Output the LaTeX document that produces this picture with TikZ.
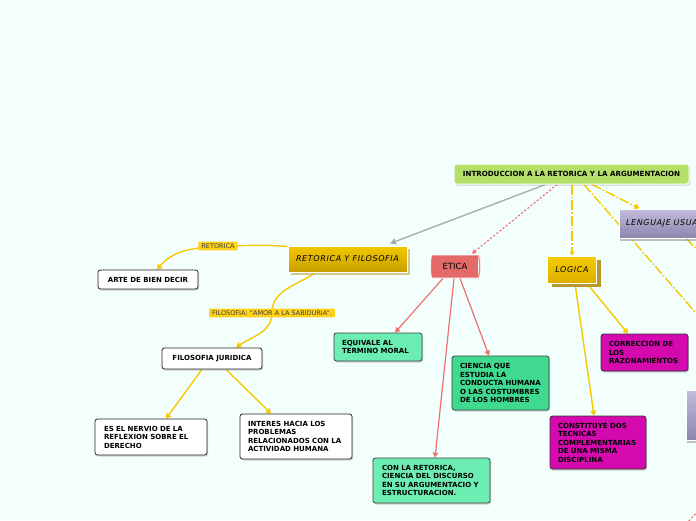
\documentclass[tikz,border=0pt]{standalone}
\usepackage{fontspec}
\setsansfont{DejaVu Sans}
\newfontfamily\handfont{DejaVu Sans}[LetterSpace=8]
\usetikzlibrary{shapes.geometric,shadows,arrows.meta}
\pgfdeclarelayer{bgfill}
\pgfdeclarelayer{lines}
\pgfsetlayers{bgfill,lines,main}
\definecolor{bgc}{HTML}{F2FFFC}
\definecolor{rootc}{HTML}{B4E06A}
\definecolor{goldline}{HTML}{F8C800}
\definecolor{redline}{HTML}{F07070}
\definecolor{grayline}{HTML}{A4ACAC}
\definecolor{lightg}{HTML}{6CEEB2}
\definecolor{darkg}{HTML}{3FD98F}
\definecolor{mag}{HTML}{D40AAE}
\definecolor{lblc}{HTML}{FFD21A}
\definecolor{gtop}{HTML}{F2C800}
\definecolor{gbot}{HTML}{C8A000}
\definecolor{gsh}{HTML}{C8B060}
\definecolor{lavtop}{HTML}{C4BCDC}
\definecolor{lavbot}{HTML}{8C84AC}
\definecolor{logtop}{HTML}{F5CC00}
\definecolor{logbot}{HTML}{DDB000}
\definecolor{logsh}{HTML}{B8982C}
\definecolor{etbody}{HTML}{E46A6A}
\definecolor{etend}{HTML}{EE8484}
\newcommand\fbx{\fontsize{7}{8.5}\selectfont\sffamily\bfseries}
\newcommand\flbl{\fontsize{6.5}{7.5}\selectfont\sffamily}
\newcommand\fhand{\fontsize{8}{9}\selectfont\handfont\itshape}
\tikzset{
  base/.style={rounded corners=2.5pt, inner sep=0pt, font=\fbx, align=left,
     execute at begin node={\hyphenpenalty=10000 \exhyphenpenalty=10000 }},
  shad/.style={drop shadow={shadow xshift=1pt, shadow yshift=-1.5pt, opacity=0.35}},
  wbox/.style={base, shad, draw=black!85, line width=0.8pt, fill=white},
  lgbox/.style={base, shad, draw=black!75, line width=0.8pt, fill=lightg},
  dgbox/.style={base, shad, draw=black!75, line width=0.8pt, fill=darkg},
  mbox/.style={base, shad, draw=black!80, line width=0.8pt, fill=mag},
  goldbox/.style={inner sep=0pt, draw=white, line width=1pt, top color=gtop, bottom color=gbot,
     font=\fhand, drop shadow={shadow xshift=3pt, shadow yshift=-3pt, fill=gsh, opacity=0.7}},
  lavbox/.style={inner sep=0pt, draw=white, line width=1pt, top color=lavtop, bottom color=lavbot,
     font=\fhand, align=left, drop shadow={shadow xshift=1pt, shadow yshift=-3pt, fill=gray, opacity=0.5}},
  lbl/.style={fill=lblc, rounded corners=1pt, inner xsep=3pt, inner ysep=2pt, font=\flbl, text=black!75},
  gconn/.style={goldline, line width=1.4pt, -{Triangle[length=5pt,width=6pt]}},
  rconn/.style={redline, line width=1.2pt, -{Triangle[length=5pt,width=5.5pt]}},
  gdash/.style={goldline, line width=1.4pt, dash pattern=on 10pt off 2pt on 1.5pt off 2pt},
  rdot/.style={redline, line width=1.2pt, dash pattern=on 2pt off 2pt},
}
\begin{document}
\begin{tikzpicture}[x=1pt,y=-1pt]
\useasboundingbox (0,0) rectangle (696,520);
\begin{pgfonlayer}{bgfill}
\fill[bgc] (0,0) rectangle (696,520);
\end{pgfonlayer}

% free ends
\coordinate (offa) at (702,320);
\coordinate (offb) at (702,254);
\coordinate (offc1) at (686,524);
\coordinate (offc2) at (700,509);

% nodes
\node[base, minimum width=235pt, minimum height=20pt, draw=white, line width=1pt, fill=rootc, align=center, shad, font=\fontsize{7.1}{8.5}\selectfont\sffamily\bfseries] (root) at (571.5,174) {INTRODUCCION A LA RETORICA Y LA ARGUMENTACION};

\node[goldbox, minimum width=119pt, minimum height=26pt] (retfil) at (347.5,259) {RETORICA Y FILOSOFIA};
\node[cylinder, shape border rotate=0, aspect=0.35, minimum width=23pt, minimum height=50pt, inner sep=0pt,
      draw=white, line width=0.6pt, cylinder uses custom fill, cylinder body fill=etbody, cylinder end fill=etend,
      font=\fontsize{8.5}{10}\selectfont\sffamily] (etica) at (455,266.5) {ETICA};
\node[inner sep=0pt, minimum width=49pt, minimum height=27pt, draw=white, line width=1pt, top color=logtop, bottom color=logbot,
      font=\fhand, drop shadow={shadow xshift=4pt, shadow yshift=-4pt, fill=logsh, opacity=1}] (logica) at (572,269.5) {LOGICA};
\node[lavbox, minimum width=122pt, minimum height=29pt, text width=108pt] (leng) at (680,223.5) {LENGUAJE USUAL};
\node[lavbox, minimum width=56pt, minimum height=50pt] (lav2) at (714,415) {};

\node[wbox, minimum width=100pt, minimum height=19pt, align=center] (arte) at (148,279.5) {ARTE DE BIEN DECIR};
\node[wbox, minimum width=100pt, minimum height=21pt, align=center] (filjur) at (212,358.5) {FILOSOFIA JURIDICA};
\node[wbox, minimum width=112pt, minimum height=36pt, text width=94pt] (nervio) at (151,437) {ES EL NERVIO DE LA\\ REFLEXION SOBRE EL\\ DERECHO};
\node[wbox, minimum width=112pt, minimum height=45pt, text width=96pt] (interes) at (296,436.5) {INTERES HACIA LOS\\ PROBLEMAS\\ RELACIONADOS CON LA\\ ACTIVIDAD HUMANA};
\node[lgbox, minimum width=88pt, minimum height=28pt, text width=72pt] (equiv) at (378,347) {EQUIVALE AL\\ TERMINO MORAL};
\node[dgbox, minimum width=97pt, minimum height=54pt, text width=81pt] (ciencia) at (500.5,383) {CIENCIA QUE\\ ESTUDIA LA\\ CONDUCTA HUMANA\\ O LAS COSTUMBRES\\ DE LOS HOMBRES};
\node[lgbox, minimum width=117pt, minimum height=45pt, text width=99pt] (conla) at (431.5,480.5) {CON LA RETORICA,\\ CIENCIA DEL DISCURSO\\ EN SU ARGUMENTACIO Y\\ ESTRUCTURACION.};
\node[mbox, minimum width=87pt, minimum height=37pt, text width=71pt] (correc) at (644.5,352.5) {CORRECCION DE\\ LOS\\ RAZONAMIENTOS};
\node[mbox, minimum width=96pt, minimum height=53pt, text width=80pt] (constit) at (598,442.5) {CONSTITUYE DOS\\ TECNICAS\\ COMPLEMENTARIAS\\ DE UNA MISMA\\ DISCIPLINA};

% labels on curved connectors
\node[lbl] (lbret) at (218,246) {RETORICA};
\node[lbl] (lbfil) at (272,313) {FILOSOFIA: "AMOR A LA SABIDURIA".};

% connectors
\begin{pgfonlayer}{lines}
\draw[grayline, line width=1.3pt, -{Triangle[length=6pt,width=6pt]}] ([xshift=-26pt]root.south) -- ([xshift=42.5pt,yshift=2pt]retfil.north);
\draw[rdot, -{Triangle[length=4pt,width=4.5pt]}] ([xshift=-14.5pt]root.south) -- ([xshift=17pt,yshift=1pt]etica.north);
\draw[gdash, line width=1.6pt, -{Triangle[length=4pt,width=5pt]}] ([xshift=0.5pt]root.south) -- (logica.north);
\draw[gdash, -{Triangle[length=5pt,width=6pt]}] ([xshift=20.5pt]root.south) -- ([xshift=21pt]leng.north west);
\draw[gdash] ([xshift=12.5pt]root.south) -- (offa);
\draw[gdash] ([xshift=6pt]leng.south) -- (offb);
\draw[rdot] (offc1) -- (offc2);

\draw[goldline, line width=1.4pt] ([yshift=-1pt]retfil.north west) to[out=175,in=0] (lbret.center);
\draw[gconn] (lbret.center) to[out=185,in=50] ([xshift=9pt]arte.north);
\draw[goldline, line width=1.4pt] ([xshift=-32pt]retfil.south) to[out=215,in=90] (lbfil.center);
\draw[gconn] (lbfil.center) to[out=-90,in=35] ([xshift=24pt]filjur.north);

\draw[gconn] ([xshift=-10pt]filjur.south) -- ([xshift=15pt]nervio.north);
\draw[gconn] ([xshift=14pt]filjur.south) -- ([xshift=-25pt]interes.north);

\draw[rconn] ([xshift=-12pt]etica.south) -- ([xshift=17pt]equiv.north);
\draw[rconn] ([xshift=5pt]etica.south) -- ([xshift=-11.5pt]ciencia.north);
\draw[rconn] ([xshift=-1pt]etica.south) -- ([xshift=3.5pt]conla.north);

\draw[gconn] ([xshift=3pt]logica.south) -- ([xshift=-4pt]constit.north);
\draw[gconn] ([xshift=15pt]logica.south) -- ([xshift=-16.5pt]correc.north);
\end{pgfonlayer}
\end{tikzpicture}
\end{document}
